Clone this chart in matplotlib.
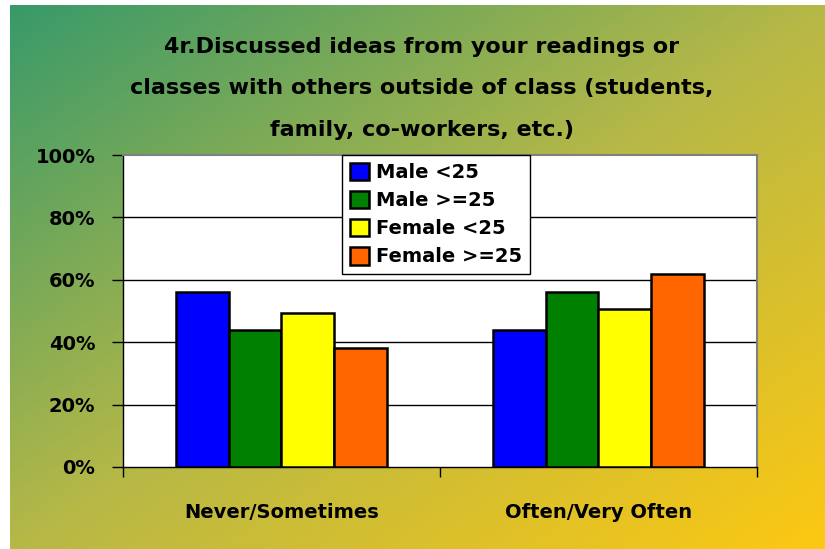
import matplotlib
matplotlib.use("Agg")
import matplotlib.pyplot as plt
from matplotlib.colors import LinearSegmentedColormap
import numpy as np

# data
categories = ["Never/Sometimes", "Often/Very Often"]
series_names = ["Male <25", "Male >=25", "Female <25", "Female >=25"]
male_lt25 = [56, 44]
male_ge25 = [44, 56]
female_lt25 = [49.5, 50.5]
female_ge25 = [38, 62]
y_ticks = [0, 20, 40, 60, 80, 100]
title_lines = [
    "4r.Discussed ideas from your readings or",
    "classes with others outside of class (students,",
    "family, co-workers, etc.)",
]

series = [male_lt25, male_ge25, female_lt25, female_ge25]
colors = ["#0000ff", "#008000", "#ffff00", "#ff6600"]

plt.rcParams["font.family"] = ["DejaVu Sans"]
plt.rcParams["font.weight"] = "bold"

W, H = 825, 549
fig = plt.figure(figsize=(W / 100, H / 100), dpi=100, facecolor="white")

# diagonal gradient background (green top-left -> gold bottom-right)
bg = fig.add_axes([10 / W, 0, 1 - 10 / W, 1 - 5 / H], zorder=-10)
cmap = LinearSegmentedColormap.from_list(
    "bg", [(0.0, "#389a6a"), (0.5, "#b6b847"), (1.0, "#fdc812")])
gx, gy = np.meshgrid(np.linspace(0, 1, 400), np.linspace(0, 1, 300))
bg.imshow((gx + gy) / 2, cmap=cmap, aspect="auto", origin="upper",
          extent=[0, 1, 0, 1], vmin=0, vmax=1)
bg.set_axis_off()

ax = fig.add_axes([123 / W, 1 - 467 / H, (757 - 123) / W, (467 - 155) / H])
ax.set_facecolor("white")

x = np.arange(len(categories))
w = 1 / 6
for i, (vals, name, c) in enumerate(zip(series, series_names, colors)):
    ax.bar(x + (i - 1.5) * w, vals, width=w, color=c, edgecolor="black",
           linewidth=1.8, label=name, zorder=3)

ax.set_xlim(-0.5, 1.5)
ax.set_ylim(0, 100)
ax.set_yticks(y_ticks)
ax.set_yticklabels([f"{t}%" for t in y_ticks], fontsize=14, fontweight="bold")
ax.tick_params(axis="y", direction="out", length=8, width=1, pad=12)
for t in y_ticks[1:-1]:
    ax.axhline(t, color="black", linewidth=1, zorder=1)

ax.set_xticks([-0.5, 0.5, 1.5])
ax.set_xticklabels([])
ax.tick_params(axis="x", which="major", direction="out", length=7, width=1)
ax.set_xticks(x, minor=True)
ax.set_xticklabels(categories, minor=True, fontsize=14, fontweight="bold")
ax.tick_params(axis="x", which="minor", length=0, pad=26)

for s in ["top", "right"]:
    ax.spines[s].set_color("#808080")
    ax.spines[s].set_linewidth(1.5)
for s in ["left", "bottom"]:
    ax.spines[s].set_color("black")
    ax.spines[s].set_linewidth(1)

leg = ax.legend(loc="upper left", bbox_to_anchor=(0.345, 1.0), borderaxespad=0,
                fancybox=False, framealpha=1, edgecolor="black",
                prop={"size": 14, "weight": "bold"},
                handlelength=1.0, handleheight=1.0, handletextpad=0.35,
                labelspacing=0.45, borderpad=0.4)
leg.get_frame().set_linewidth(1)
leg.set_zorder(5)

for line, yc in zip(title_lines, [47, 88, 130]):
    fig.text(422 / W, 1 - yc / H, line, ha="center", va="center",
             fontsize=16, fontweight="bold")

fig.savefig("out.png", dpi=100, facecolor=fig.get_facecolor())
